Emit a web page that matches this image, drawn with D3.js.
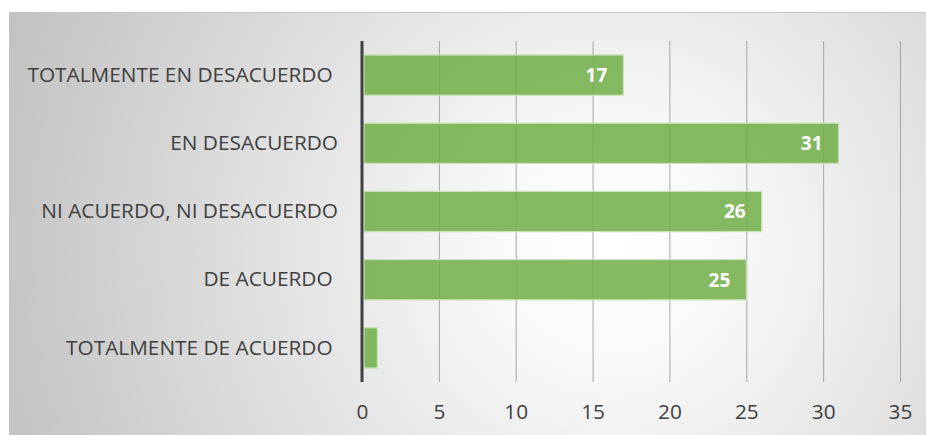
<!DOCTYPE html>
<html>
<head>
<meta charset="utf-8">
<script src="https://cdn.jsdelivr.net/npm/d3@7"></script>
<style>
    body { margin: 0; background: #fff; }
    svg { display: block; }
</style>
</head>
<body>
<div id="chart"></div>
<script>
// Chart data
const categories = [
    'TOTALMENTE EN DESACUERDO ',
    'EN DESACUERDO',
    'NI ACUERDO, NI DESACUERDO',
    'DE ACUERDO ',
    'TOTALMENTE DE ACUERDO '
];
const values = [17, 31, 26, 25, 1];
const xTicks = [0, 5, 10, 15, 20, 25, 30, 35];

const width = 926;
const height = 435;
const margin = { top: 41, right: 26, bottom: 53, left: 362 };

const svg = d3.select('#chart')
    .append('svg')
    .attr('width', width)
    .attr('height', height);

// Background gradient like the original chart area
const defs = svg.append('defs');
const grad = defs.append('radialGradient')
    .attr('id', 'bg')
    .attr('gradientUnits', 'userSpaceOnUse')
    .attr('cx', 610)
    .attr('cy', 250)
    .attr('r', 640);
grad.append('stop').attr('offset', '0%').attr('stop-color', '#ffffff');
grad.append('stop').attr('offset', '15%').attr('stop-color', '#fbfbfb');
grad.append('stop').attr('offset', '100%').attr('stop-color', '#c2c2c2');

svg.append('rect')
    .attr('x', 9.5)
    .attr('y', 12.5)
    .attr('width', width)
    .attr('height', height)
    .attr('fill', 'url(#bg)')
    .attr('stroke', '#c6c6c6')
    .attr('stroke-width', 1);

const x = d3.scaleLinear()
    .domain([0, 35])
    .range([margin.left, width - margin.right]);

const y = d3.scaleBand()
    .domain(categories)
    .range([margin.top, height - margin.bottom])
    .paddingInner(0.41)
    .paddingOuter(0.205);

// Gridlines
svg.append('g')
    .selectAll('line')
    .data(xTicks.slice(1))
    .join('line')
    .attr('x1', d => x(d) + 0.5)
    .attr('x2', d => x(d) + 0.5)
    .attr('y1', margin.top)
    .attr('y2', height - margin.bottom)
    .attr('stroke', '#a6a6a6')
    .attr('stroke-width', 1);

// Bars
svg.append('g')
    .selectAll('rect')
    .data(values)
    .join('rect')
    .attr('x', x(0) + 2)
    .attr('y', (d, i) => y(categories[i]))
    .attr('width', d => x(d) - x(0) - 2)
    .attr('height', y.bandwidth())
    .attr('fill', '#70ad47')
    .attr('fill-opacity', 0.85)
    .attr('stroke', '#c9e3b9')
    .attr('stroke-width', 1.2);

// Value labels inside bars
svg.append('g')
    .selectAll('text')
    .data(values.filter(d => d > 5))
    .join('text')
    .attr('x', d => x(d) - 16)
    .attr('y', d => y(categories[values.indexOf(d)]) + y.bandwidth() / 2)
    .attr('dy', '0.36em')
    .attr('text-anchor', 'end')
    .attr('fill', '#ffffff')
    .style('font-family', '"Open Sans", sans-serif')
    .style('font-weight', 'bold')
    .style('font-size', '19px')
    .text(d => d);

// Category axis
const yAxis = svg.append('g')
    .attr('transform', `translate(${margin.left - 24},0)`)
    .call(d3.axisLeft(y).tickSize(0).tickPadding(0));
yAxis.select('.domain').remove();
yAxis.selectAll('text')
    .attr('fill', '#404040')
    .style('white-space', 'pre')
    .style('font-family', '"Open Sans", sans-serif')
    .style('font-size', '20.8px');

// Value axis
const xAxis = svg.append('g')
    .attr('transform', `translate(0,${height - margin.bottom})`)
    .call(d3.axisBottom(x).tickValues(xTicks).tickSize(0).tickPadding(22));
xAxis.select('.domain').remove();
xAxis.selectAll('text')
    .attr('fill', '#404040')
    .style('font-family', '"Open Sans", sans-serif')
    .style('font-size', '20.8px');

// Dark vertical baseline
svg.append('line')
    .attr('x1', x(0))
    .attr('x2', x(0))
    .attr('y1', margin.top)
    .attr('y2', height - margin.bottom)
    .attr('stroke', '#404040')
    .attr('stroke-width', 3);
</script>
</body>
</html>
